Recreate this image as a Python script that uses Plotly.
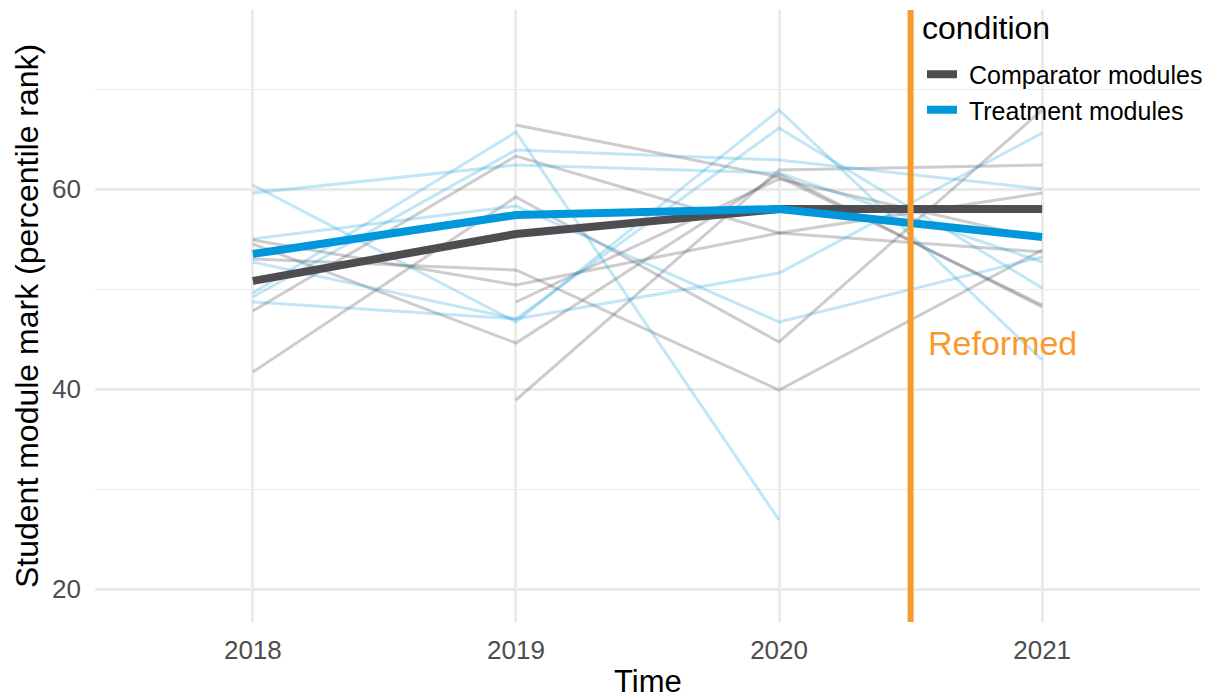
import plotly.graph_objects as go

years = [2018, 2019, 2020, 2021]

# Individual comparator modules (percentile rank), None = no data that year
comparator_modules = [
    [54.9, 50.4, 55.6, 59.6],
    [54.5, 44.6, 61.5, 48.2],
    [53.0, 51.9, 39.9, 53.9],
    [47.8, 63.3, 55.6, 53.7],
    [41.7, 59.2, 44.7, 67.9],
    [None, 66.4, 61.2, 48.4],
    [None, 48.7, 61.0, 55.0],
    [None, 38.9, 61.9, 62.4],
]

# Individual treatment modules
treatment_modules = [
    [60.4, 46.7, 67.9, 42.9],
    [59.6, 62.4, 61.6, 52.7],
    [55.0, 58.3, 46.7, 53.2],
    [52.7, 47.0, 66.1, 50.1],
    [49.6, 65.7, 26.9, None],
    [49.2, 63.9, 62.9, 60.0],
    [48.7, 47.0, 51.6, 65.6],
]

comparator_mean = [50.8, 55.5, 58.0, 58.0]
treatment_mean = [53.5, 57.4, 58.0, 55.2]

series_names = ["Comparator modules", "Treatment modules"]
legend_title = "condition"

reform_year = 2020.5
reform_label = "Reformed"
reform_label_pos = (2020.56, 44.6)

y_ticks = [20, 40, 60]
y_minor = [30, 50, 70]

GRAY = "#4D4D52"
BLUE = "#0098DB"
GRAY_FAINT = "rgba(77,77,82,0.28)"
BLUE_FAINT = "rgba(0,152,219,0.24)"
ORANGE = "#F89B2C"
FONT = "Liberation Sans, Arial, sans-serif"
NB = "\u00a0"

fig = go.Figure()

for vals in comparator_modules:
    fig.add_trace(go.Scatter(x=years, y=vals, mode="lines",
                             line=dict(color=GRAY_FAINT, width=3),
                             showlegend=False, hoverinfo="skip"))
for vals in treatment_modules:
    fig.add_trace(go.Scatter(x=years, y=vals, mode="lines",
                             line=dict(color=BLUE_FAINT, width=3),
                             showlegend=False, hoverinfo="skip"))

fig.add_trace(go.Scatter(x=years, y=comparator_mean, mode="lines",
                         name=NB + series_names[0],
                         line=dict(color=GRAY, width=8)))
fig.add_trace(go.Scatter(x=years, y=treatment_mean, mode="lines",
                         name=NB + series_names[1],
                         line=dict(color=BLUE, width=8)))

fig.add_shape(type="line", x0=reform_year, x1=reform_year, xref="x",
              y0=0, y1=1, yref="paper",
              line=dict(color=ORANGE, width=6), layer="above")

fig.add_annotation(x=reform_label_pos[0], y=reform_label_pos[1], xref="x", yref="y",
                   text=reform_label, showarrow=False, xanchor="left", yanchor="middle",
                   font=dict(family=FONT, size=34, color=ORANGE))

# legend title
fig.add_annotation(x=(920 - 95) / 1105, y=1 - (28 - 10) / 612, xref="paper", yref="paper",
                   text=legend_title, showarrow=False, xanchor="left", yanchor="middle",
                   font=dict(family=FONT, size=32, color="#000000"))

# axis titles
fig.add_annotation(x=0.5, y=0, xref="paper", yref="paper", text="Time",
                   showarrow=False, xanchor="center", yanchor="middle", yshift=-59,
                   font=dict(family=FONT, size=31, color="#000000"))
fig.add_annotation(x=0, y=0.5, xref="paper", yref="paper",
                   text="Student module mark (percentile rank)",
                   showarrow=False, textangle=-90, xanchor="center", yanchor="middle",
                   xshift=-68, font=dict(family=FONT, size=32, color="#000000"))

fig.update_layout(
    width=1211, height=690,
    margin=dict(l=87, r=19, t=2, b=76),
    paper_bgcolor="white", plot_bgcolor="white",
    font=dict(family=FONT),
    legend=dict(
        font=dict(family=FONT, size=25, color="#000000"),
        x=(922 - 95) / 1105, y=0.932, xanchor="left", yanchor="top",
        bgcolor="rgba(0,0,0,0)", borderwidth=0,
        itemwidth=30, tracegroupgap=0,
    ),
    xaxis=dict(
        range=[2017.40, 2021.60], tickvals=years, ticktext=[str(y) for y in years],
        showgrid=True, gridcolor="#EBEBEB", gridwidth=2.5,
        zeroline=False, showline=False, ticks="", ticklabelstandoff=10,
        tickfont=dict(family=FONT, size=26, color="#4D4D4D"),
    ),
    yaxis=dict(
        range=[16.7, 77.9], tickvals=y_ticks,
        showgrid=True, gridcolor="#EBEBEB", gridwidth=2.5,
        zeroline=False, showline=False, ticks="", ticklabelstandoff=13,
        tickfont=dict(family=FONT, size=26, color="#4D4D4D"),
        minor=dict(tickvals=y_minor, showgrid=True, gridcolor="#EBEBEB", gridwidth=1.3),
    ),
)

fig.write_html("out.html")
